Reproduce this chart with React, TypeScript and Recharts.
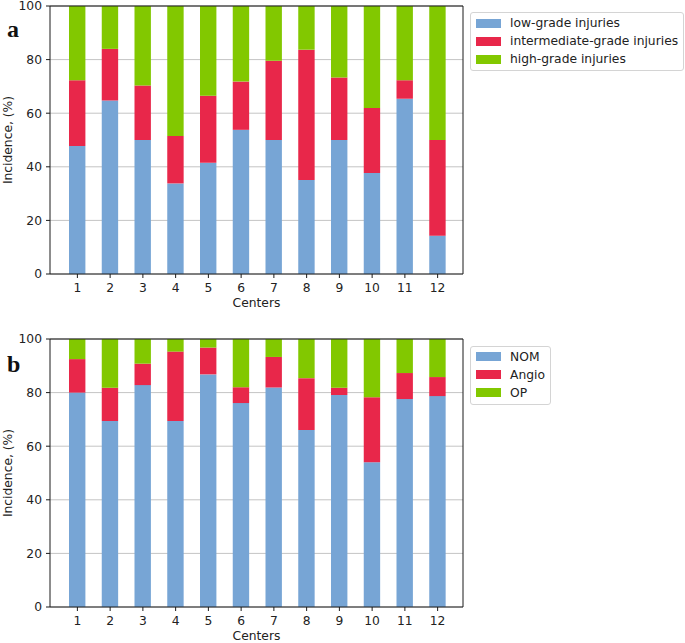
import React from 'react';
import { BarChart, Bar, XAxis, YAxis, CartesianGrid, Legend } from 'recharts';

const centers = ['1', '2', '3', '4', '5', '6', '7', '8', '9', '10', '11', '12'];
const yTicks = [0, 20, 40, 60, 80, 100];

// panel a: injury grade per center (%)
const lowGrade = [47.8, 64.7, 50, 33.8, 41.5, 53.8, 50, 35.1, 50, 37.7, 65.4, 14.3];
const intermediateGrade = [24.5, 19.3, 20.3, 17.7, 25, 18, 29.6, 48.6, 23.3, 24.2, 6.9, 35.7];
const highGrade = [27.7, 16, 29.7, 48.5, 33.5, 28.2, 20.4, 16.3, 26.7, 38.1, 27.7, 50];

// panel b: treatment per center (%)
const nom = [80, 69.4, 82.8, 69.4, 86.8, 76.1, 81.9, 66, 79.1, 54, 77.6, 78.7];
const angio = [12.5, 12.4, 8, 25.9, 10, 5.9, 11.4, 19.4, 2.7, 24.3, 9.7, 7.1];
const op = [7.5, 18.2, 9.2, 4.7, 3.2, 18, 6.7, 14.6, 18.2, 21.7, 12.7, 14.2];

const BLUE = '#77a5d5';
const RED = '#e8274a';
const GREEN = '#82c800';

const gradeData = centers.map((c, i) => ({
  center: c,
  low: lowGrade[i],
  intermediate: intermediateGrade[i],
  high: highGrade[i],
}));

const treatmentData = centers.map((c, i) => ({
  center: c,
  nom: nom[i],
  angio: angio[i],
  op: op[i],
}));

const gradeSeries = [
  { key: 'low', name: 'low-grade injuries', color: BLUE },
  { key: 'intermediate', name: 'intermediate-grade injuries', color: RED },
  { key: 'high', name: 'high-grade injuries', color: GREEN },
];

const treatmentSeries = [
  { key: 'nom', name: 'NOM', color: BLUE },
  { key: 'angio', name: 'Angio', color: RED },
  { key: 'op', name: 'OP', color: GREEN },
];

type Series = { key: string; name: string; color: string };

const LegendBox = ({ items }: { items: Series[] }) => (
  <div
    style={{
      border: '1px solid #d4d4d4',
      borderRadius: 3,
      background: '#fff',
      padding: '1px 5px 2px 5px',
      fontSize: 12.3,
      color: '#222',
      whiteSpace: 'nowrap',
    }}
  >
    {items.map((it) => (
      <div key={it.key} style={{ display: 'flex', alignItems: 'center', height: 18 }}>
        <span style={{ display: 'inline-block', width: 25, height: 9, background: it.color, marginRight: 9 }} />
        <span>{it.name}</span>
      </div>
    ))}
  </div>
);

const tickStyle = { fontSize: 12.3, fill: '#222' };
const spine = { stroke: '#1a1a1a', strokeWidth: 1 };

const Panel = ({ data, series, top }: { data: any[]; series: Series[]; top: number }) => (
  <div style={{ position: 'absolute', left: 0, top }}>
    <BarChart width={685} height={324} data={data} margin={{ top: 8, right: 221, left: 0, bottom: 0 }}>
      <CartesianGrid horizontal vertical={false} stroke="#c4c4c4" />
      <XAxis
        dataKey="center"
        interval={0}
        padding={{ left: 11, right: 9 }}
        tickSize={4}
        tickMargin={5}
        height={47}
        tick={tickStyle}
        axisLine={spine}
        tickLine={spine}
        label={{ value: 'Centers', position: 'insideBottom', offset: 14, fontSize: 12.3, fill: '#222' }}
      />
      <XAxis xAxisId="top" orientation="top" dataKey="center" height={1} tick={false} tickLine={false} axisLine={spine} />
      <YAxis
        type="number"
        domain={[0, 100]}
        ticks={yTicks}
        interval={0}
        width={50}
        tickSize={4}
        tickMargin={4}
        tick={tickStyle}
        axisLine={spine}
        tickLine={spine}
        label={{
          value: 'Incidence, (%)',
          angle: -90,
          position: 'insideLeft',
          offset: 8,
          fontSize: 12.3,
          fill: '#222',
          style: { textAnchor: 'middle' },
        }}
      />
      <YAxis yAxisId="right" orientation="right" type="number" domain={[0, 100]} width={1} tick={false} tickLine={false} axisLine={spine} />
      {series.map((s) => (
        <Bar key={s.key} dataKey={s.key} name={s.name} stackId="s" fill={s.color} barSize={16.4} isAnimationActive={false} />
      ))}
      <Legend
        layout="vertical"
        align="center"
        verticalAlign="middle"
        wrapperStyle={{ left: 470, top: 15.5 }}
        content={() => <LegendBox items={series} />}
      />
    </BarChart>
  </div>
);

const letterStyle: React.CSSProperties = {
  position: 'absolute',
  left: 7,
  fontFamily: '"Liberation Serif", serif',
  fontWeight: 'bold',
  fontSize: 24,
  lineHeight: '24px',
  color: '#111',
};

export default function App() {
  return (
    <div style={{ position: 'absolute', left: 0, top: 0, width: 685, height: 643, overflow: 'hidden', background: '#fff', fontFamily: '"DejaVu Sans", sans-serif' }}>
      <Panel data={gradeData} series={gradeSeries} top={-3.5} />
      <Panel data={treatmentData} series={treatmentSeries} top={330} />
      <div style={{ ...letterStyle, top: 17 }}>a</div>
      <div style={{ ...letterStyle, top: 352 }}>b</div>
    </div>
  );
}
